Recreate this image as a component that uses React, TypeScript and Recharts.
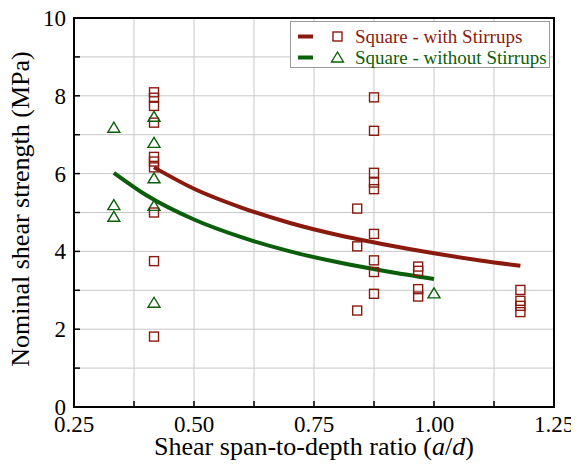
import React from "react";
import {
  ComposedChart,
  Scatter,
  Line,
  XAxis,
  YAxis,
  CartesianGrid,
  ReferenceArea,
} from "recharts";

const withStirrupsAd = [
  0.4167, 0.4167, 0.4167, 0.4167, 0.4167, 0.4167, 0.4167, 0.4167, 0.4167, 0.4167,
  0.84, 0.84, 0.84,
  0.875, 0.875, 0.875, 0.875, 0.875, 0.875, 0.875, 0.875, 0.875,
  0.967, 0.967, 0.967, 0.967,
  1.18, 1.18, 1.18, 1.18,
];
const withStirrupsV = [
  8.09, 7.95, 7.74, 7.31, 6.43, 6.31, 6.16, 5.0, 3.75, 1.81,
  5.1, 4.13, 2.48,
  7.96, 7.1, 6.02, 5.77, 5.6, 4.45, 3.77, 3.47, 2.91,
  3.61, 3.5, 3.03, 2.84,
  3.01, 2.73, 2.6, 2.44,
];

const withoutStirrupsAd = [0.333, 0.333, 0.333, 0.4167, 0.4167, 0.4167, 0.4167, 0.4167, 1.0];
const withoutStirrupsV = [7.18, 5.19, 4.89, 7.46, 6.79, 5.88, 5.17, 2.68, 2.92];

// trend curves, read at a few spots along each line
const fitWithAd = [0.4167, 0.5, 0.6, 0.7, 0.8, 0.9, 1.0, 1.1, 1.18];
const fitWithV = [6.16, 5.61, 5.12, 4.73, 4.42, 4.17, 3.95, 3.76, 3.63];
const fitWithoutAd = [0.333, 0.4, 0.5, 0.6, 0.7, 0.8, 0.9, 1.0];
const fitWithoutV = [6.02, 5.45, 4.82, 4.36, 4.0, 3.72, 3.49, 3.29];

const xTicks = [0.25, 0.375, 0.5, 0.625, 0.75, 0.875, 1.0, 1.125, 1.25];
const yTicks = [0, 1, 2, 3, 4, 5, 6, 7, 8, 9, 10];

const RED = "#8b1a0e";
const GREEN = "#0b5e0b";
const FONT = "Liberation Serif, Tinos, DejaVu Serif, serif";

const zip = (xs: number[], ys: number[]) => xs.map((x, i) => ({ x, y: ys[i] }));

const withData = zip(withStirrupsAd, withStirrupsV);
const withoutData = zip(withoutStirrupsAd, withoutStirrupsV);
const fitWith = zip(fitWithAd, fitWithV);
const fitWithout = zip(fitWithoutAd, fitWithoutV);

const SquareDot = (props: any) => {
  const { cx, cy } = props;
  return (
    <rect x={cx - 4.5} y={cy - 4.5} width={9} height={9} fill="none" stroke={RED} strokeWidth={1.4} />
  );
};

const TriangleDot = (props: any) => {
  const { cx, cy } = props;
  return (
    <path
      d={`M${cx},${cy - 5.5} L${cx + 6},${cy + 4.5} L${cx - 6},${cy + 4.5} Z`}
      fill="none"
      stroke={GREEN}
      strokeWidth={1.4}
    />
  );
};

const XTick = (props: any) => {
  const { x, y, payload } = props;
  const v = payload.value as number;
  const major = Math.abs(v * 4 - Math.round(v * 4)) < 1e-6;
  return (
    <g>
      <line x1={x} y1={y} x2={x} y2={y - 6} stroke="#000" strokeWidth={1.5} />
      {major && (
        <text x={x} y={y + 25} textAnchor="middle" fontSize={23} fontFamily={FONT} fill="#000">
          {v.toFixed(2)}
        </text>
      )}
    </g>
  );
};

const YTick = (props: any) => {
  const { x, y, payload } = props;
  const v = payload.value as number;
  return (
    <g>
      <line x1={x} y1={y} x2={x + 6} y2={y} stroke="#000" strokeWidth={1.5} />
      {v % 2 === 0 && (
        <text x={x - 8} y={y + 8} textAnchor="end" fontSize={23} fontFamily={FONT} fill="#000">
          {v}
        </text>
      )}
    </g>
  );
};

const LegendRow = ({ color, marker, label }: { color: string; marker: "square" | "triangle"; label: string }) => (
  <div style={{ display: "flex", alignItems: "center", height: 21 }}>
    <svg width={64} height={21} style={{ flexShrink: 0 }}>
      <line x1={7} y1={10.5} x2={22} y2={10.5} stroke={color} strokeWidth={4} />
      {marker === "square" ? (
        <rect x={42} y={6} width={9} height={9} fill="none" stroke={color} strokeWidth={1.4} />
      ) : (
        <path d="M46.5,5 L52.5,15 L40.5,15 Z" fill="none" stroke={color} strokeWidth={1.4} />
      )}
    </svg>
    <span style={{ color, fontFamily: FONT, fontSize: 19, whiteSpace: "nowrap" }}>{label}</span>
  </div>
);

export default function App() {
  return (
    <div style={{ position: "relative", width: 571, height: 465 }}>
      <ComposedChart width={571} height={465} margin={{ top: 10, right: 25, left: 0, bottom: 0 }}>
        <CartesianGrid stroke="#c8c8c8" strokeWidth={1} />
        <XAxis
          type="number"
          dataKey="x"
          domain={[0.25, 1.25]}
          ticks={xTicks}
          interval={0}
          height={66}
          tickSize={0}
          tickMargin={0}
          axisLine={false}
          tick={<XTick />}
          allowDataOverflow
        />
        <YAxis
          type="number"
          dataKey="y"
          domain={[0, 10]}
          ticks={yTicks}
          interval={0}
          width={66}
          tickSize={0}
          tickMargin={0}
          axisLine={false}
          tick={<YTick />}
          allowDataOverflow
        />
        <Scatter data={withData} dataKey="y" shape={<SquareDot />} isAnimationActive={false} />
        <Scatter data={withoutData} dataKey="y" shape={<TriangleDot />} isAnimationActive={false} />
        <Line
          data={fitWith}
          dataKey="y"
          type="monotone"
          stroke={RED}
          strokeWidth={4}
          dot={false}
          activeDot={false}
          isAnimationActive={false}
        />
        <Line
          data={fitWithout}
          dataKey="y"
          type="monotone"
          stroke={GREEN}
          strokeWidth={4}
          dot={false}
          activeDot={false}
          isAnimationActive={false}
        />
        <ReferenceArea
          x1={0.25}
          x2={1.25}
          y1={0}
          y2={10}
          fill="none"
          stroke="#000"
          strokeWidth={2}
          fillOpacity={0}
          ifOverflow="visible"
        />
      </ComposedChart>

      <div
        style={{
          position: "absolute",
          left: 282,
          top: 13,
          width: 260,
          height: 47,
          border: "1px solid #999",
          background: "#fff",
          paddingTop: 4,
          boxSizing: "border-box",
        }}
      >
        <LegendRow color={RED} marker="square" label="Square - with Stirrups" />
        <LegendRow color={GREEN} marker="triangle" label="Square - without Stirrups" />
      </div>

      <svg width={571} height={465} style={{ position: "absolute", left: 0, top: 0, pointerEvents: "none" }}>
        <text x={306} y={447} textAnchor="middle" fontSize={26} fontFamily={FONT} fill="#000">
          Shear span-to-depth ratio (<tspan fontStyle="italic">a</tspan>/<tspan fontStyle="italic">d</tspan>)
        </text>
        <text
          x={12}
          y={201}
          transform="rotate(-90 12 201)"
          textAnchor="middle"
          dominantBaseline="central"
          fontSize={26}
          fontFamily={FONT}
          fill="#000"
        >
          Nominal shear strength (MPa)
        </text>
      </svg>
    </div>
  );
}
